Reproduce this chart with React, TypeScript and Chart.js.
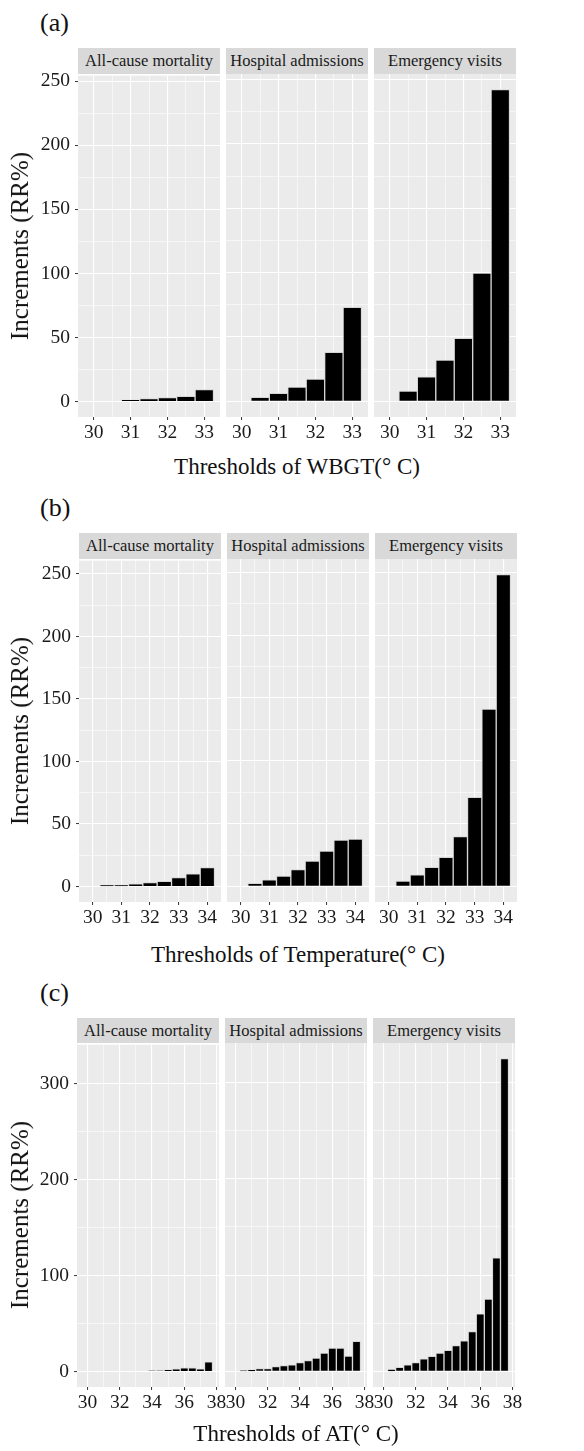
import React, { useEffect, useRef } from "react";
import { Chart, registerables } from "chart.js";

Chart.register(...registerables);

const FONT = "'Liberation Serif', 'DejaVu Serif', serif";

const outcomes = ["All-cause mortality", "Hospital admissions", "Emergency visits"];

// (a) WBGT thresholds (°C) and increments (RR%)
const wbgtThresholds = [30, 30.5, 31, 31.5, 32, 32.5, 33];
const wbgtMortality = [null, null, 1.3, 2.3, 3.1, 4.1, 9.3];
const wbgtHospital = [null, 3.1, 6.2, 11.1, 17.3, 38.1, 73.0];
const wbgtEmergency = [null, 8.1, 19.0, 32.1, 49.0, 99.6, 242.2];
const wbgtXTicks = [30, 31, 32, 33];

// (b) Temperature
const tempThresholds = [30, 30.5, 31, 31.5, 32, 32.5, 33, 33.5, 34];
const tempMortality = [null, 1.1, 1.1, 2.1, 3.2, 4.2, 7.2, 10.2, 15.1];
const tempHospital = [null, 2.4, 5.3, 8.2, 13.3, 20.2, 28.1, 36.8, 37.6];
const tempEmergency = [null, 4.2, 9.2, 15.1, 23.2, 39.7, 71.0, 141.2, 248.2];
const tempXTicks = [30, 31, 32, 33, 34];

// (c) Apparent temperature
const atThresholds = [30, 30.5, 31, 31.5, 32, 32.5, 33, 33.5, 34, 34.5, 35, 35.5, 36, 36.5, 37, 37.5];
const atMortality = [null, null, null, null, null, null, null, null, 0.7, 0.7, 1.7, 2.8, 3.7, 3.7, 2.8, 10.0];
const atHospital = [null, 0.7, 1.7, 2.8, 2.8, 4.9, 5.9, 6.9, 9.0, 11.1, 13.9, 19.1, 24.2, 24.2, 15.8, 31.3];
const atEmergency = [null, 1.9, 4.2, 6.9, 9.0, 12.9, 15.7, 19.0, 21.9, 26.8, 31.7, 41.2, 59.7, 75.0, 118.0, 324.7];
const atXTicks = [30, 32, 34, 36, 38];

const yTicksAB = [0, 50, 100, 150, 200, 250];
const yTicksC = [0, 100, 200, 300];

const yTitle = "Increments (RR%)";

type RowDef = {
  tag: string;
  tagTop: number;
  stripTop: number;
  panelTop: number;
  panelH: number;
  lefts: number[];
  panelW: number;
  title: string;
  titleY: number;
  x: number[];
  series: (number | null)[][];
  xTicks: number[];
  yTicks: number[];
};

const rows: RowDef[] = [
  {
    tag: "(a)", tagTop: 8, stripTop: 48, panelTop: 74, panelH: 343,
    lefts: [78, 226, 374], panelW: 142,
    title: "Thresholds of WBGT(° C)", titleY: 467,
    x: wbgtThresholds, series: [wbgtMortality, wbgtHospital, wbgtEmergency],
    xTicks: wbgtXTicks, yTicks: yTicksAB,
  },
  {
    tag: "(b)", tagTop: 493, stripTop: 533, panelTop: 559, panelH: 343,
    lefts: [79, 227, 375], panelW: 142,
    title: "Thresholds of Temperature(° C)", titleY: 955,
    x: tempThresholds, series: [tempMortality, tempHospital, tempEmergency],
    xTicks: tempXTicks, yTicks: yTicksAB,
  },
  {
    tag: "(c)", tagTop: 978, stripTop: 1018, panelTop: 1043, panelH: 344,
    lefts: [77, 225, 373], panelW: 142,
    title: "Thresholds of AT(° C)", titleY: 1434,
    x: atThresholds, series: [atMortality, atHospital, atEmergency],
    xTicks: atXTicks, yTicks: yTicksC,
  },
];

function minorBreaks(major: number[], lo: number, hi: number): number[] {
  const step = major[1] - major[0];
  const out: number[] = [];
  for (let i = -1; i < major.length; i++) {
    const m = major[0] + (i + 0.5) * step;
    if (m > lo && m < hi) out.push(m);
  }
  return out;
}

const isIn = (v: number, arr: number[]) => arr.some((m) => Math.abs(m - v) < 1e-9);

type FacetProps = {
  left: number;
  top: number;
  w: number;
  h: number;
  x: number[];
  y: (number | null)[];
  xMin: number;
  xMax: number;
  yMin: number;
  yMax: number;
  xTicks: number[];
  yTicks: number[];
  showY: boolean;
};

const PAD = 15;
const YAXIS_W = 45;
const XAXIS_H = 30;

function Facet(p: FacetProps) {
  const ref = useRef<HTMLCanvasElement | null>(null);
  const padL = p.showY ? PAD + YAXIS_W : PAD;
  const cw = p.w + padL + PAD;
  const ch = p.h + PAD + XAXIS_H + 5;

  useEffect(() => {
    if (!ref.current) return;
    const xMinor = minorBreaks(p.xTicks, p.xMin, p.xMax);
    const yMinor = minorBreaks(p.yTicks, p.yMin, p.yMax);
    const xAll = [...p.xTicks, ...xMinor].sort((a, b) => a - b);
    const yAll = [...p.yTicks, ...yMinor].sort((a, b) => a - b);

    const bg = {
      id: "panelBg",
      beforeDraw(chart: any) {
        const { ctx, chartArea } = chart;
        ctx.save();
        ctx.fillStyle = "#EBEBEB";
        ctx.fillRect(chartArea.left, chartArea.top, chartArea.right - chartArea.left, chartArea.bottom - chartArea.top);
        ctx.restore();
      },
    };

    const chart = new Chart(ref.current, {
      type: "bar",
      data: {
        datasets: [
          {
            data: p.x.map((xv, i) => ({ x: xv, y: p.y[i] })) as any,
            backgroundColor: "#000000",
            borderColor: "#d6d6d6",
            borderWidth: 1,
            borderSkipped: "start",
            barPercentage: 1,
            categoryPercentage: 1,
          },
        ],
      },
      options: {
        animation: false,
        responsive: false,
        events: [],
        layout: { padding: { left: PAD, right: PAD, top: PAD, bottom: 5 } },
        plugins: { legend: { display: false }, tooltip: { enabled: false }, title: { display: false } },
        scales: {
          x: {
            type: "linear",
            min: p.xMin,
            max: p.xMax,
            offset: false,
            afterBuildTicks: (ax: any) => {
              ax.ticks = xAll.map((v) => ({ value: v }));
            },
            afterFit: (ax: any) => {
              ax.height = XAXIS_H;
            },
            border: { display: false },
            grid: {
              offset: false,
              color: "#ffffff",
              lineWidth: (c: any) => (c.tick && isIn(c.tick.value, p.xTicks) ? 1.1 : 0.55),
              drawTicks: true,
              tickLength: 3,
              tickWidth: 1,
              tickColor: (c: any) => (c.tick && isIn(c.tick.value, p.xTicks) ? "#333333" : "rgba(0,0,0,0)"),
            },
            ticks: {
              autoSkip: false,
              maxRotation: 0,
              minRotation: 0,
              padding: 1,
              color: "#1a1a1a",
              font: { family: FONT, size: 19.5 },
              callback: (v: any) => (isIn(Number(v), p.xTicks) ? String(v) : ""),
            },
          },
          y: {
            type: "linear",
            min: p.yMin,
            max: p.yMax,
            afterBuildTicks: (ax: any) => {
              ax.ticks = yAll.map((v) => ({ value: v }));
            },
            afterFit: (ax: any) => {
              ax.width = p.showY ? YAXIS_W : 0;
            },
            border: { display: false },
            grid: {
              color: "#ffffff",
              lineWidth: (c: any) => (c.tick && isIn(c.tick.value, p.yTicks) ? 1.1 : 0.55),
              drawTicks: p.showY,
              tickLength: 3,
              tickWidth: 1,
              tickColor: (c: any) => (c.tick && isIn(c.tick.value, p.yTicks) ? "#333333" : "rgba(0,0,0,0)"),
            },
            ticks: {
              display: p.showY,
              autoSkip: false,
              padding: 5,
              color: "#1a1a1a",
              font: { family: FONT, size: 19.5 },
              callback: (v: any) => (isIn(Number(v), p.yTicks) ? String(v) : ""),
            },
          },
        },
      } as any,
      plugins: [bg],
    });
    return () => chart.destroy();
  }, []);

  return (
    <canvas
      ref={ref}
      width={cw}
      height={ch}
      style={{ position: "absolute", left: p.left - padL, top: p.top - PAD, width: cw, height: ch }}
    />
  );
}

function Row({ r }: { r: RowDef }) {
  const xlo = Math.min(...r.x) - 0.25;
  const xhi = Math.max(...r.x) + 0.25;
  const xpad = 0.05 * (xhi - xlo);
  const ymaxData = Math.max(...r.series.flat().filter((v): v is number => v !== null));
  const ypad = 0.05 * ymaxData;
  const stripH = r.panelTop - r.stripTop;
  const left0 = r.lefts[0];
  const right = r.lefts[2] + r.panelW;
  return (
    <>
      <div
        style={{
          position: "absolute", left: 40, top: r.tagTop, fontSize: 26, lineHeight: "30px",
          color: "#111", whiteSpace: "nowrap",
        }}
      >
        {r.tag}
      </div>
      {r.series.map((s, i) => (
        <React.Fragment key={i}>
          <div
            style={{
              position: "absolute", left: r.lefts[i], top: r.stripTop, width: r.panelW, height: stripH,
              background: "#D9D9D9", color: "#1A1A1A", fontSize: 16.5, lineHeight: `${stripH}px`,
              textAlign: "center", whiteSpace: "nowrap", overflow: "hidden",
            }}
          >
            {outcomes[i]}
          </div>
          <Facet
            left={r.lefts[i]} top={r.panelTop} w={r.panelW} h={r.panelH}
            x={r.x} y={s}
            xMin={xlo - xpad} xMax={xhi + xpad}
            yMin={-ypad} yMax={ymaxData + ypad}
            xTicks={r.xTicks} yTicks={r.yTicks} showY={i === 0}
          />
        </React.Fragment>
      ))}
      <div
        style={{
          position: "absolute", left: left0, width: right - left0, top: r.titleY - 15, height: 30,
          lineHeight: "30px", fontSize: 23, textAlign: "center", color: "#111", whiteSpace: "nowrap",
        }}
      >
        {r.title}
      </div>
      <div
        style={{
          position: "absolute", left: 20, top: r.panelTop + r.panelH / 2, fontSize: 25, lineHeight: "28px",
          color: "#111", whiteSpace: "nowrap", transform: "translate(-50%, -50%) rotate(-90deg)",
        }}
      >
        {yTitle}
      </div>
    </>
  );
}

export default function App() {
  return (
    <div
      style={{
        position: "absolute", left: 0, top: 0, width: 584, height: 1451, background: "#ffffff",
        fontFamily: FONT, overflow: "hidden",
      }}
    >
      {rows.map((r, i) => (
        <Row key={i} r={r} />
      ))}
    </div>
  );
}
